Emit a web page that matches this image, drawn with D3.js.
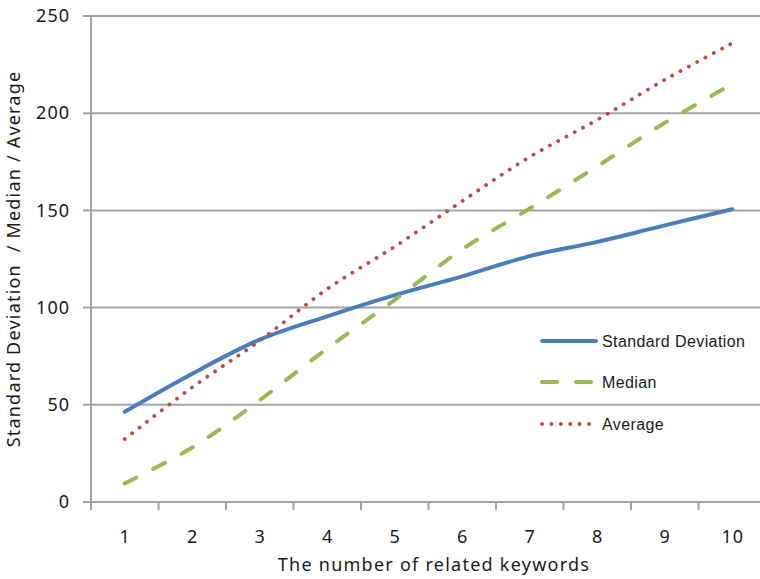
<!DOCTYPE html>
<html>
<head>
<meta charset="utf-8">
<script src="https://cdn.jsdelivr.net/npm/d3@7/dist/d3.min.js"></script>
<style>
  html, body { margin: 0; padding: 0; background: #fff; }
  svg { display: block; }
  text { fill: #1a1a1a; }
</style>
</head>
<body>
<svg id="chart" width="760" height="579"></svg>
<script>
// Number of related keywords (x categories)
const categories = ["1", "2", "3", "4", "5", "6", "7", "8", "9", "10"];
// Series values
const stdDev  = [46.4, 66, 83.5, 95.5, 106.4, 116.1, 126.5, 133.8, 142.3, 150.6];
const median  = [9.6, 28, 52.4, 79, 104, 130, 151, 172.7, 195, 215];
const average = [32.4, 59, 83, 109.6, 131.4, 154.8, 177.5, 196.6, 217.2, 236];
const yTicks = [0, 50, 100, 150, 200, 250];
const seriesNames = ["Standard Deviation", "Median", "Average"];

const svg = d3.select("#chart");
const plotLeft = 91, plotRight = 766, plotTop = 16, plotBottom = 502;

const x = d3.scaleBand().domain(categories).range([plotLeft, plotRight]).padding(0);
const y = d3.scaleLinear().domain([0, 250]).range([plotBottom, plotTop]);
const cx = d => x(d) + x.bandwidth() / 2;

const gridColor = "#a3a3a3";
const labelFont = "'Noto Sans', 'Open Sans', sans-serif";

// Horizontal gridlines (extend left as tick marks)
svg.append("g").selectAll("line").data(yTicks).join("line")
  .attr("x1", plotLeft - 8).attr("x2", plotRight)
  .attr("y1", d => y(d)).attr("y2", d => y(d))
  .attr("stroke", gridColor).attr("stroke-width", 2);

// Y axis line
svg.append("line")
  .attr("x1", plotLeft).attr("x2", plotLeft).attr("y1", plotTop).attr("y2", plotBottom + 8)
  .attr("stroke", gridColor).attr("stroke-width", 2);

// X tick marks at category boundaries
const boundaries = categories.map(c => x(c)).concat([plotRight]);
svg.append("g").selectAll("line").data(boundaries).join("line")
  .attr("x1", d => d).attr("x2", d => d)
  .attr("y1", plotBottom).attr("y2", plotBottom + 8)
  .attr("stroke", gridColor).attr("stroke-width", 2);

// Y axis labels
const yAxis = svg.append("g").attr("transform", `translate(${plotLeft},0)`)
  .call(d3.axisLeft(y).tickValues(yTicks).tickSize(0).tickPadding(21));
yAxis.select(".domain").remove();
yAxis.selectAll("text")
  .attr("font-family", labelFont)
  .attr("font-size", 18).attr("letter-spacing", 1).attr("fill", "#1a1a1a");

// X axis labels
const xLabelScale = d3.scalePoint().domain(categories)
  .range([cx(categories[0]), cx(categories[categories.length - 1])]);
const xAxis = svg.append("g").attr("transform", `translate(0,${plotBottom})`)
  .call(d3.axisBottom(xLabelScale).tickSize(0).tickPadding(28));
xAxis.select(".domain").remove();
xAxis.selectAll("text")
  .attr("font-family", labelFont)
  .attr("font-size", 18).attr("letter-spacing", 1).attr("fill", "#1a1a1a");

// Axis titles
svg.append("text")
  .attr("x", (277 + 591) / 2).attr("y", 571)
  .attr("text-anchor", "middle")
  .attr("font-family", labelFont)
  .attr("font-size", 18).attr("letter-spacing", 1.25)
  .text("The number of related keywords");

svg.append("text")
  .attr("transform", "translate(20,259) rotate(-90)")
  .attr("text-anchor", "middle")
  .attr("font-family", labelFont)
  .attr("font-size", 18).attr("letter-spacing", 1.2)
  .style("white-space", "pre")
  .text("Standard Deviation  / Median / Average");

// Series
const series = [
  { name: seriesNames[0], values: stdDev,  color: "#4a7ebb", dash: null,      width: 4 },
  { name: seriesNames[1], values: median,  color: "#98b954", dash: "13,19",   width: 4 },
  { name: seriesNames[2], values: average, color: "#be4b48", dash: "0.1,9.3", width: 3.8 }
];

const line = d3.line()
  .x((d, i) => cx(categories[i]))
  .y(d => y(d))
  .curve(d3.curveCatmullRom.alpha(0.5));

svg.append("g").selectAll("path").data(series).join("path")
  .attr("d", d => line(d.values))
  .attr("fill", "none")
  .attr("stroke", d => d.color)
  .attr("stroke-width", d => d.width)
  .attr("stroke-linecap", "round")
  .attr("stroke-dasharray", d => d.dash);

// Legend
const legendY = [341, 382, 424];
const lg = svg.append("g");
series.forEach((s, i) => {
  lg.append("line")
    .attr("x1", 542).attr("x2", 596)
    .attr("y1", legendY[i]).attr("y2", legendY[i])
    .attr("stroke", s.color).attr("stroke-width", s.width)
    .attr("stroke-linecap", "round")
    .attr("stroke-dasharray", i === 1 ? "15,19" : s.dash);
  lg.append("text")
    .attr("x", 602).attr("y", legendY[i]).attr("dy", "0.36em")
    .attr("font-family", "'Liberation Sans', Arial, sans-serif")
    .attr("font-size", 16).attr("letter-spacing", 0.4)
    .text(s.name);
});
</script>
</body>
</html>
